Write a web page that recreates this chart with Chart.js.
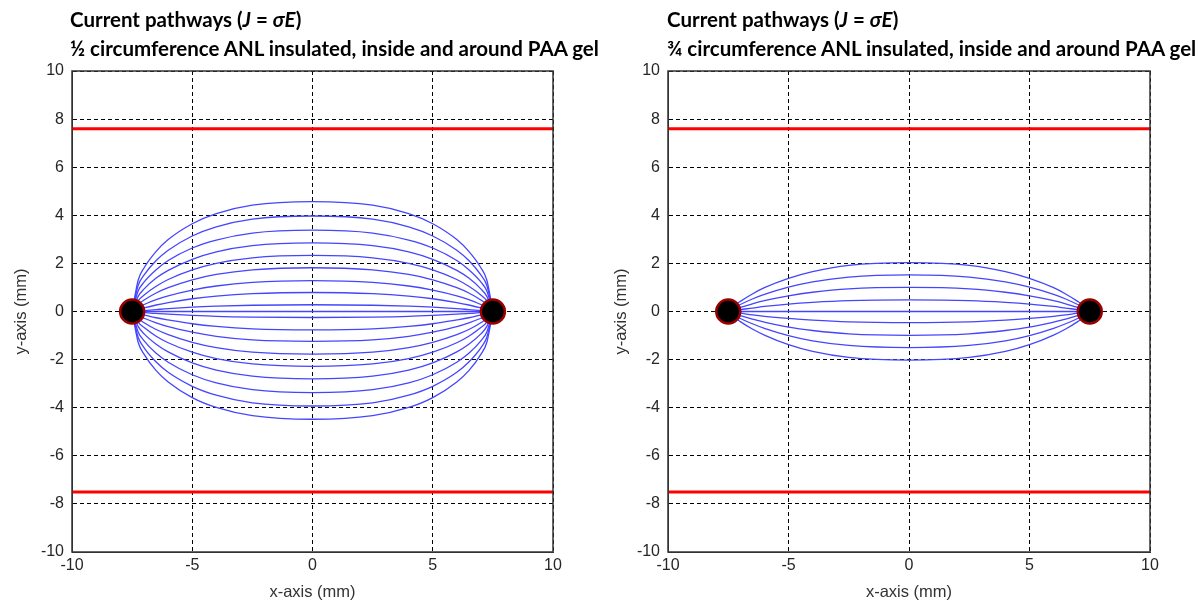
<!DOCTYPE html>
<html>
<head>
<meta charset="utf-8">
<script src="https://cdn.jsdelivr.net/npm/chart.js@4.4.1/dist/chart.umd.min.js"></script>
<style>
  body { margin:0; background:#fff; width:1203px; height:602px; position:relative; overflow:hidden; }
  .title { position:absolute; top:5px; font-family:Lato, "Open Sans", sans-serif; font-weight:700; font-size:20.5px; line-height:29px; color:#000; white-space:nowrap; z-index:2; }
  .box { position:absolute; top:0; height:602px; }
</style>
</head>
<body>
<div class="box" style="left:0;width:600px"><canvas id="leftChart"></canvas></div>
<div class="box" style="left:600px;width:603px"><canvas id="rightChart"></canvas></div>
<div class="title" style="left:70px">Current pathways (<i>J</i> = <i>σE</i>)<br>½ circumference ANL insulated, inside and around PAA gel</div>
<div class="title" style="left:667px">Current pathways (<i>J</i> = <i>σE</i>)<br>¾ circumference ANL insulated, inside and around PAA gel</div>
<script>
const pathX = [-7.5, -7.25, -7, -6.5, -6, -5, -4, -2.5, 0, 2.5, 4, 5, 6, 6.5, 7, 7.25, 7.5];

// ½ circumference insulated: y of each path at pathX
const leftPaths = [
  [0, 1.30, 1.82, 2.50, 2.99, 3.65, 4.07, 4.42, 4.57, 4.42, 4.07, 3.65, 2.99, 2.50, 1.82, 1.30, 0],
  [0, 1.08, 1.52, 2.12, 2.55, 3.14, 3.52, 3.84, 3.97, 3.84, 3.52, 3.14, 2.55, 2.12, 1.52, 1.08, 0],
  [0, .85, 1.23, 1.74, 2.12, 2.64, 2.97, 3.26, 3.38, 3.26, 2.97, 2.64, 2.12, 1.74, 1.23, .85, 0],
  [0, .63, .94, 1.39, 1.71, 2.17, 2.48, 2.74, 2.85, 2.74, 2.48, 2.17, 1.71, 1.39, .94, .63, 0],
  [0, .45, .69, 1.05, 1.33, 1.73, 2.00, 2.23, 2.33, 2.23, 2.00, 1.73, 1.33, 1.05, .69, .45, 0],
  [0, .30, .48, .77, .99, 1.32, 1.54, 1.73, 1.82, 1.73, 1.54, 1.32, .99, .77, .48, .30, 0],
  [0, .17, .29, .49, .65, .89, 1.06, 1.21, 1.28, 1.21, 1.06, .89, .65, .49, .29, .17, 0],
  [0, .08, .15, .27, .37, .53, .64, .74, .79, .74, .64, .53, .37, .27, .15, .08, 0],
  [0, .02, .04, .08, .12, .18, .22, .26, .28, .26, .22, .18, .12, .08, .04, .02, 0],
  [0, 0, 0, 0, 0, 0, 0, 0, 0, 0, 0, 0, 0, 0, 0, 0, 0],
  [0, -.02, -.04, -.08, -.11, -.16, -.20, -.23, -.25, -.23, -.20, -.16, -.11, -.08, -.04, -.02, 0],
  [0, -.08, -.14, -.26, -.35, -.51, -.62, -.72, -.76, -.72, -.62, -.51, -.35, -.26, -.14, -.08, 0],
  [0, -.17, -.28, -.47, -.63, -.86, -1.03, -1.18, -1.24, -1.18, -1.03, -.86, -.63, -.47, -.28, -.17, 0],
  [0, -.29, -.47, -.75, -.96, -1.28, -1.50, -1.69, -1.77, -1.69, -1.50, -1.28, -.96, -.75, -.47, -.29, 0],
  [0, -.44, -.67, -1.03, -1.30, -1.69, -1.96, -2.18, -2.28, -2.18, -1.96, -1.69, -1.30, -1.03, -.67, -.44, 0],
  [0, -.62, -.93, -1.36, -1.68, -2.14, -2.44, -2.69, -2.80, -2.69, -2.44, -2.14, -1.68, -1.36, -.93, -.62, 0],
  [0, -.85, -1.22, -1.74, -2.11, -2.63, -2.97, -3.25, -3.37, -3.25, -2.97, -2.63, -2.11, -1.74, -1.22, -.85, 0],
  [0, -1.07, -1.51, -2.10, -2.53, -3.11, -3.48, -3.80, -3.93, -3.80, -3.48, -3.11, -2.53, -2.10, -1.51, -1.07, 0],
  [0, -1.28, -1.78, -2.46, -2.93, -3.58, -3.99, -4.33, -4.48, -4.33, -3.99, -3.58, -2.93, -2.46, -1.78, -1.28, 0]
];

// ¾ circumference insulated
const rightPaths = [
  [0, .24, .42, .73, .99, 1.38, 1.66, 1.92, 2.03, 1.92, 1.66, 1.38, .99, .73, .42, .24, 0],
  [0, .16, .29, .52, .71, 1.01, 1.23, 1.43, 1.52, 1.43, 1.23, 1.01, .71, .52, .29, .16, 0],
  [0, .09, .17, .32, .45, .65, .80, .94, 1.00, .94, .80, .65, .45, .32, .17, .09, 0],
  [0, .04, .08, .14, .21, .31, .38, .45, .48, .45, .38, .31, .21, .14, .08, .04, 0],
  [0, 0, 0, 0, 0, 0, 0, 0, 0, 0, 0, 0, 0, 0, 0, 0, 0],
  [0, -.04, -.07, -.14, -.20, -.29, -.36, -.43, -.46, -.43, -.36, -.29, -.20, -.14, -.07, -.04, 0],
  [0, -.09, -.17, -.32, -.44, -.65, -.79, -.93, -.99, -.93, -.79, -.65, -.44, -.32, -.17, -.09, 0],
  [0, -.16, -.29, -.51, -.70, -1.00, -1.22, -1.41, -1.50, -1.41, -1.22, -1.00, -.70, -.51, -.29, -.16, 0],
  [0, -.24, -.42, -.73, -.98, -1.38, -1.66, -1.91, -2.02, -1.91, -1.66, -1.38, -.98, -.73, -.42, -.24, 0]
];

// gel boundaries (red) and electrodes
const wallY = [7.6, -7.5];
const wallX = [-10, 10];
const electrodeX = [-7.5, 7.5];

const tickFont = { family: "'Liberation Sans', Arial, sans-serif", size: 16 };
const titleFont = { family: "'Liberation Sans', Arial, sans-serif", size: 16.5 };

// solid box round the plot area, like matlab
const framePlugin = {
  id: 'frame',
  afterDraw(chart) {
    const a = chart.chartArea, ctx = chart.ctx;
    ctx.save();
    ctx.strokeStyle = '#333';
    ctx.lineWidth = 1.5;
    ctx.strokeRect(a.left, a.top, a.right - a.left, a.bottom - a.top);
    ctx.restore();
  }
};

function makeChart(id, paths, yWidth, padRight) {
  const datasets = [];
  paths.forEach(p => {
    datasets.push({
      data: pathX.map((x, i) => ({ x: x, y: p[i] })),
      showLine: true,
      borderColor: '#4545ff',
      borderWidth: 1.3,
      pointRadius: 0,
      cubicInterpolationMode: 'monotone',
      order: 3
    });
  });
  wallY.forEach(w => {
    datasets.push({
      data: wallX.map(x => ({ x: x, y: w })),
      showLine: true,
      borderColor: '#ff0000',
      borderWidth: 3,
      pointRadius: 0,
      order: 2
    });
  });
  datasets.push({
    data: electrodeX.map(x => ({ x: x, y: 0 })),
    showLine: false,
    pointRadius: 12,
    backgroundColor: '#000',
    borderColor: '#9a0000',
    borderWidth: 2.5,
    order: 1
  });

  return new Chart(document.getElementById(id), {
    type: 'scatter',
    data: { datasets: datasets },
    options: {
      responsive: true,
      maintainAspectRatio: false,
      animation: false,
      layout: { padding: { top: 71, right: padRight, bottom: 0, left: 0 } },
      plugins: { legend: { display: false }, tooltip: { enabled: false } },
      scales: {
        x: {
          type: 'linear', min: -10, max: 10,
          ticks: { stepSize: 5, color: '#262626', font: tickFont, padding: 4 },
          grid: { color: '#000', lineWidth: 1, drawTicks: false },
          border: { color: '#333', dash: [4, 3] },
          title: { display: true, text: 'x-axis (mm)', color: '#333', font: titleFont, padding: { top: 2, bottom: 0 } },
          afterFit: s => { s.height = 50; }
        },
        y: {
          type: 'linear', min: -10, max: 10,
          ticks: { stepSize: 2, color: '#262626', font: tickFont, padding: 8 },
          grid: { color: '#000', lineWidth: 1, drawTicks: false },
          border: { color: '#333', dash: [4, 3] },
          title: { display: true, text: 'y-axis (mm)', color: '#333', font: titleFont, padding: { top: 12, bottom: 0 } },
          afterFit: s => { s.width = yWidth; }
        }
      }
    },
    plugins: [framePlugin]
  });
}

makeChart('leftChart', leftPaths, 72, 47);
makeChart('rightChart', rightPaths, 68, 53);
</script>
</body>
</html>
